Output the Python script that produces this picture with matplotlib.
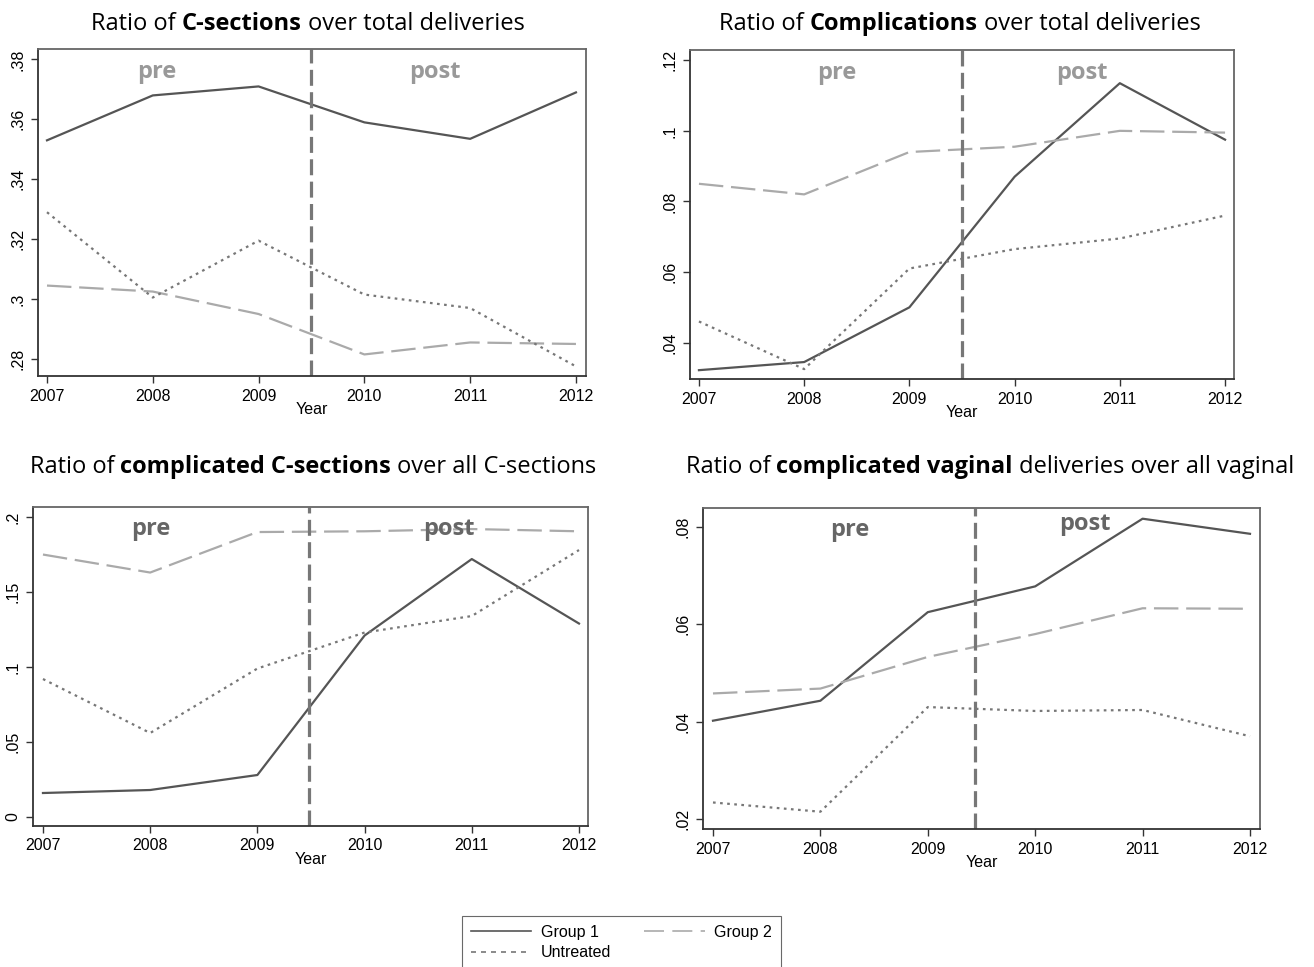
import numpy as np
import matplotlib
matplotlib.use('Agg')
import matplotlib.pyplot as plt
from matplotlib.lines import Line2D

years = [2007, 2008, 2009, 2010, 2011, 2012]

# panel 1: C-sections / total deliveries
cs_group1 = [0.353, 0.368, 0.371, 0.359, 0.3535, 0.369]
cs_group2 = [0.3045, 0.3025, 0.295, 0.2815, 0.2855, 0.285]
cs_untreated = [0.329, 0.3005, 0.3195, 0.3015, 0.297, 0.2775]

# panel 2: complications / total deliveries
comp_group1 = [0.0322, 0.0345, 0.050, 0.087, 0.1135, 0.0975]
comp_group2 = [0.085, 0.082, 0.094, 0.0955, 0.100, 0.0995]
comp_untreated = [0.046, 0.0325, 0.061, 0.0665, 0.0695, 0.076]

# panel 3: complicated C-sections / all C-sections
ccs_group1 = [0.016, 0.018, 0.028, 0.121, 0.172, 0.129]
ccs_group2 = [0.175, 0.163, 0.190, 0.1905, 0.192, 0.1905]
ccs_untreated = [0.092, 0.056, 0.099, 0.123, 0.134, 0.178]

# panel 4: complicated vaginal / all vaginal
cv_group1 = [0.0402, 0.0443, 0.0625, 0.0678, 0.0817, 0.0786]
cv_group2 = [0.0458, 0.0468, 0.0533, 0.058, 0.0633, 0.0632]
cv_untreated = [0.0234, 0.0215, 0.043, 0.0422, 0.0424, 0.037]

W, H = 1314, 967
fig = plt.figure(figsize=(W / 100, H / 100), dpi=100)

TICKFONT = 'Liberation Sans'
TITLEFONT = 'Open Sans'
TS = 11.5


def px_axes(left, top, right, bottom):
    return fig.add_axes([left / W, 1 - bottom / H, (right - left) / W, (bottom - top) / H])


def mixed_title(x, y, parts, size=17):
    # parts: list of (text, weight); centred on x (pixels), baseline y (pixels)
    r = fig.canvas.get_renderer()
    texts = []
    for s, w in parts:
        t = fig.text(0, 1 - y / H, s, fontsize=size, fontweight=w, family=TITLEFONT,
                     va='baseline', ha='left')
        texts.append(t)
    widths = [t.get_window_extent(r).width for t in texts]
    a = fig.text(0, 0, 'a a', fontsize=size, family=TITLEFONT)
    b = fig.text(0, 0, 'aa', fontsize=size, family=TITLEFONT)
    space = a.get_window_extent(r).width - b.get_window_extent(r).width
    a.remove()
    b.remove()
    total = sum(widths) + space * (len(texts) - 1)
    cur = x - total / 2
    for t, wd in zip(texts, widths):
        t.set_x(cur / W)
        cur += wd + space


def panel(ax, g1, g2, un, ylim, yticks, yticklabels, xlim, vline, prepost_color, pre_xy, post_xy):
    ax.plot(years, g1, color='#555555', lw=1.6, ls='-')
    ax.plot(years, g2, color='#aaaaaa', lw=1.6, ls=(0, (11, 3.5)))
    ax.plot(years, un, color='#777777', lw=1.6, ls=(0, (1.2, 2)))
    ax.axvline(vline, color='#777777', lw=2.3, ls=(0, (5, 2)))
    ax.set_xlim(*xlim)
    ax.set_ylim(*ylim)
    ax.set_xticks(years)
    ax.set_xticklabels([str(y) for y in years], family=TICKFONT, fontsize=TS)
    ax.set_yticks(yticks)
    ax.set_yticklabels(yticklabels, family=TICKFONT, fontsize=TS, rotation=90, va='center')
    ax.set_xlabel('Year', family=TICKFONT, fontsize=TS, labelpad=-1)
    for sp in ax.spines.values():
        sp.set_color('#666666')
        sp.set_linewidth(1.3)
    ax.spines['bottom'].set_color('#333333')
    ax.spines['left'].set_color('#333333')
    ax.tick_params(direction='out', length=5, width=1, color='#333333', pad=4)
    ax.text(pre_xy[0], pre_xy[1], 'pre', transform=ax.transAxes, fontsize=17, fontweight='bold',
            family=TITLEFONT, color=prepost_color, ha='center', va='center')
    ax.text(post_xy[0], post_xy[1], 'post', transform=ax.transAxes, fontsize=17, fontweight='bold',
            family=TITLEFONT, color=prepost_color, ha='center', va='center')


ax1 = px_axes(38, 49, 586, 376)
panel(ax1, cs_group1, cs_group2, cs_untreated, (0.2743, 0.3835),
      [0.28, 0.30, 0.32, 0.34, 0.36, 0.38], ['.28', '.3', '.32', '.34', '.36', '.38'],
      (2006.915, 2012.095), 2009.5, '#999999', (0.217, 0.93), (0.725, 0.93))

ax2 = px_axes(690, 50, 1234, 379)
panel(ax2, comp_group1, comp_group2, comp_untreated, (0.0297, 0.1229),
      [0.04, 0.06, 0.08, 0.10, 0.12], ['.04', '.06', '.08', '.1', '.12'],
      (2006.915, 2012.085), 2009.5, '#999999', (0.27, 0.93), (0.72, 0.93))

ax3 = px_axes(33, 507, 588, 826)
panel(ax3, ccs_group1, ccs_group2, ccs_untreated, (-0.006, 0.2067),
      [0, 0.05, 0.10, 0.15, 0.20], ['0', '.05', '.1', '.15', '.2'],
      (2006.907, 2012.084), 2009.48, '#666666', (0.213, 0.93), (0.75, 0.93))

ax4 = px_axes(703, 508, 1260, 829)
panel(ax4, cv_group1, cv_group2, cv_untreated, (0.01795, 0.0839),
      [0.02, 0.04, 0.06, 0.08], ['.02', '.04', '.06', '.08'],
      (2006.907, 2012.093), 2009.44, '#666666', (0.263, 0.93), (0.685, 0.95))

mixed_title(308, 30, [('Ratio of', 'normal'), ('C-sections', 'bold'), ('over total deliveries', 'normal')])
mixed_title(960, 30, [('Ratio of', 'normal'), ('Complications', 'bold'), ('over total deliveries', 'normal')])
mixed_title(313, 473, [('Ratio of', 'normal'), ('complicated C-sections', 'bold'), ('over all C-sections', 'normal')])
mixed_title(990, 473, [('Ratio of', 'normal'), ('complicated vaginal', 'bold'), ('deliveries over all vaginal', 'normal')])

handles = [
    Line2D([], [], color='#555555', lw=1.2, ls='-'),
    Line2D([], [], color='#777777', lw=1.2, ls=(0, (3, 3))),
    Line2D([], [], color='#aaaaaa', lw=1.2, ls=(0, (12, 5))),
]
labels = ['Group 1', 'Untreated', 'Group 2']
leg = fig.legend(handles, labels, ncol=2, loc='upper left',
                 bbox_to_anchor=(462 / W, 1 - 916 / H), frameon=True, fancybox=False,
                 prop={'family': TICKFONT, 'size': TS}, handlelength=3.8, columnspacing=2.05,
                 borderpad=0.55, borderaxespad=0, labelspacing=0.35, handletextpad=0.6)
leg.get_frame().set_edgecolor('#444444')
leg.get_frame().set_linewidth(0.8)

fig.savefig('out.png', dpi=100)
